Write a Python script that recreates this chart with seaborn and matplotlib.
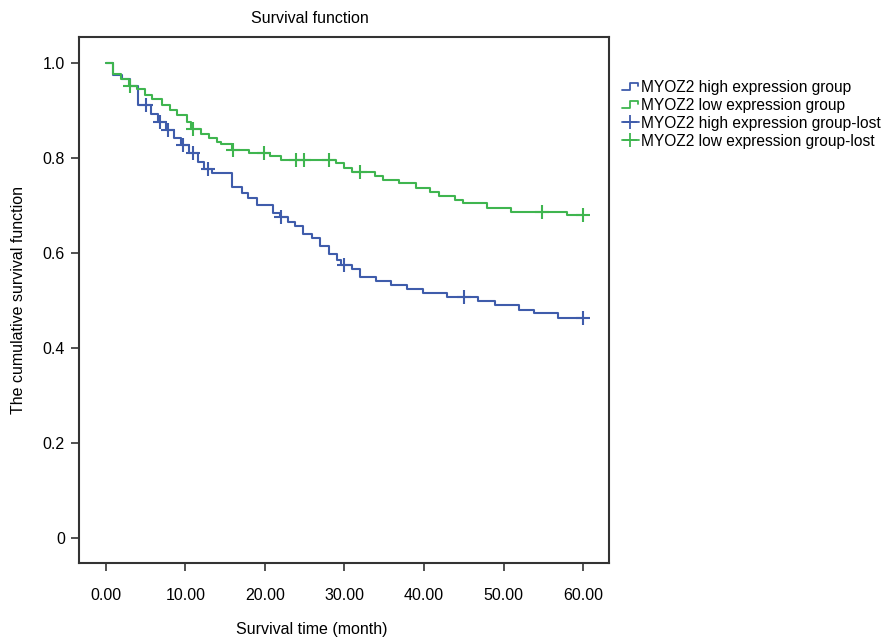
# Kaplan-Meier style survival curves, MYOZ2 high vs low expression

import numpy as np
import pandas as pd
import matplotlib
matplotlib.use("Agg")
import matplotlib.pyplot as plt
from matplotlib.lines import Line2D
from matplotlib.legend_handler import HandlerBase
import seaborn as sns

# ------------------------------
# 1. DATA
# ------------------------------
high_time = [0, 0.9, 2.0, 3.0, 4.0, 5.7, 6.6, 7.5, 8.6, 9.4, 10.4, 11.6, 12.4,
             13.4, 15.9, 17.1, 17.9, 19.0, 21.0, 21.9, 22.9, 23.8, 24.8, 25.9,
             26.9, 28.0, 29.0, 29.6, 30.9, 32.0, 34.0, 35.9, 37.9, 39.9, 42.9,
             46.8, 48.9, 51.9, 53.8, 56.9, 60.0]
high_surv = [1.0, 0.975, 0.966, 0.952, 0.912, 0.893, 0.876, 0.859, 0.843, 0.827,
             0.810, 0.793, 0.778, 0.768, 0.740, 0.726, 0.717, 0.701, 0.684, 0.676,
             0.666, 0.657, 0.641, 0.631, 0.615, 0.599, 0.585, 0.575, 0.566, 0.550,
             0.542, 0.533, 0.524, 0.515, 0.507, 0.499, 0.490, 0.481, 0.473, 0.464,
             0.464]
high_censor = [5.0, 6.8, 7.8, 9.7, 11.0, 12.9, 22.0, 29.9, 45.0, 60.0]

low_time = [0, 0.9, 1.9, 2.9, 3.9, 4.9, 5.8, 7.0, 8.0, 9.0, 10.2, 10.7, 12.0,
            13.0, 14.0, 14.5, 15.8, 18.0, 20.6, 22.0, 28.9, 29.9, 31.0, 33.8,
            34.9, 36.9, 39.0, 40.8, 41.9, 43.9, 44.9, 47.9, 50.9, 58.0, 60.0]
low_surv = [1.0, 0.977, 0.966, 0.952, 0.945, 0.933, 0.924, 0.912, 0.901, 0.891,
            0.877, 0.862, 0.852, 0.843, 0.835, 0.829, 0.818, 0.810, 0.804, 0.796,
            0.789, 0.780, 0.771, 0.762, 0.754, 0.747, 0.738, 0.729, 0.720, 0.712,
            0.705, 0.696, 0.687, 0.680, 0.680]
low_censor = [3.0, 11.0, 16.0, 19.9, 23.9, 24.9, 28.0, 32.0, 54.8, 60.0]

labels = ["MYOZ2 high expression group", "MYOZ2 low expression group",
          "MYOZ2 high expression group-lost", "MYOZ2 low expression group-lost"]

BLUE = "#3f5cab"
GREEN = "#3fb54f"


def step_value(times, surv, t):
    # value of a right-continuous step function at t
    idx = np.searchsorted(times, t, side="right") - 1
    return np.asarray(surv)[idx]


curves = pd.concat([
    pd.DataFrame({"time": high_time, "surv": high_surv, "group": labels[0]}),
    pd.DataFrame({"time": low_time, "surv": low_surv, "group": labels[1]}),
])
censors = pd.concat([
    pd.DataFrame({"time": high_censor,
                  "surv": step_value(high_time, high_surv, high_censor),
                  "group": labels[2]}),
    pd.DataFrame({"time": low_censor,
                  "surv": step_value(low_time, low_surv, low_censor),
                  "group": labels[3]}),
])

# ------------------------------
# 2. STYLE
# ------------------------------
sns.set_style("white")
plt.rcParams["font.family"] = ["Liberation Sans", "DejaVu Sans"]
plt.rcParams["font.size"] = 11.5
plt.rcParams["text.color"] = "black"
plt.rcParams["axes.labelcolor"] = "black"

fig = plt.figure(figsize=(8.96, 6.42), dpi=100)
ax = fig.add_axes([0.088, 0.123, 0.592, 0.819])

# ------------------------------
# 3. PLOT
# ------------------------------
sns.lineplot(data=curves, x="time", y="surv", hue="group",
             palette=[BLUE, GREEN], estimator=None, sort=False,
             drawstyle="steps-post", linewidth=1.5, legend=False, ax=ax)

for grp, col in zip(labels[2:], [BLUE, GREEN]):
    sub = censors[censors["group"] == grp]
    ax.plot(sub["time"], sub["surv"], linestyle="none", marker="+",
            markersize=10, markeredgewidth=1.5, color=col)

ax.set_xlim(-3.4, 63.3)
ax.set_ylim(-0.053, 1.055)
ax.set_xticks(np.arange(0, 61, 10))
ax.set_xticklabels([f"{v:.2f}" for v in np.arange(0, 61, 10)])
ax.set_yticks([0, 0.2, 0.4, 0.6, 0.8, 1.0])
ax.set_yticklabels(["0", "0.2", "0.4", "0.6", "0.8", "1.0"])
ax.tick_params(axis="both", direction="out", length=6, width=1.2,
               color="#333333", labelsize=11.5, labelcolor="black",
               bottom=True, left=True, top=False, right=False)
ax.tick_params(axis="x", pad=12)
ax.tick_params(axis="y", pad=4)

for sp in ax.spines.values():
    sp.set_color("#333333")
    sp.set_linewidth(1.5)

ax.text(0.436, 1.036, "Survival function", transform=ax.transAxes,
        ha="center", va="center", fontsize=11.5)
ax.set_xlabel("Survival time (month)", fontsize=11.5)
ax.xaxis.set_label_coords(0.44, -0.127)
ax.xaxis.label.set_va("center")
ax.set_ylabel("The cumulative survival function", fontsize=11.5, labelpad=12)


# legend with step icons for the curves
class StepHandler(HandlerBase):
    def create_artists(self, legend, orig_handle, xdescent, ydescent,
                       width, height, fontsize, trans):
        x0 = -xdescent
        y0 = -ydescent
        xs = [x0, x0 + width * 0.45, x0 + width * 0.45, x0 + width * 0.95,
              x0 + width * 0.95]
        ys = [y0 + height * 0.2, y0 + height * 0.2, y0 + height * 0.85,
              y0 + height * 0.85, y0 + height * 0.55]
        line = Line2D(xs, ys, color=orig_handle.get_color(),
                      linewidth=1.3, transform=trans)
        return [line]


handles = [
    Line2D([], [], color=BLUE),
    Line2D([], [], color=GREEN),
    Line2D([], [], color=BLUE, marker="+", markersize=10, markeredgewidth=1.3,
           linewidth=1.3),
    Line2D([], [], color=GREEN, marker="+", markersize=10, markeredgewidth=1.3,
           linewidth=1.3),
]
leg = ax.legend(handles, labels, loc="upper left",
                bbox_to_anchor=(1.012, 0.93), frameon=False, fontsize=11.2,
                handlelength=1.1, handletextpad=0.12, labelspacing=0.18,
                borderaxespad=0,
                handler_map={handles[0]: StepHandler(),
                             handles[1]: StepHandler()})
for txt in leg.get_texts():
    txt.set_color("black")

fig.savefig("out.png", dpi=100)
